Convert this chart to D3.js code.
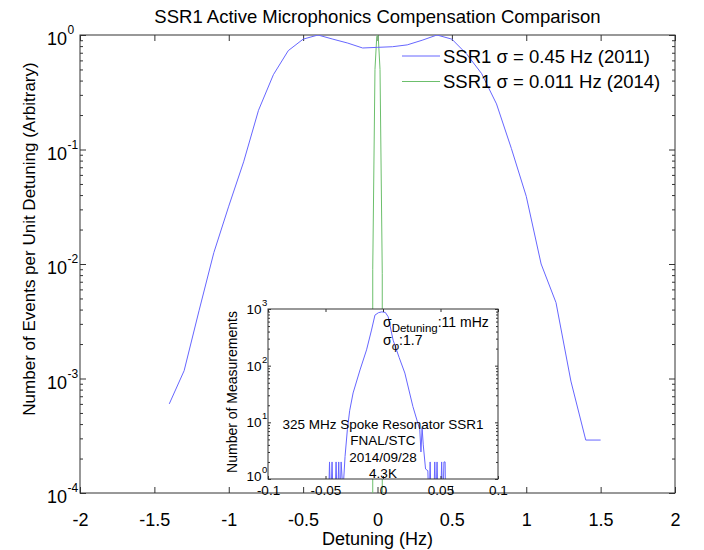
<!DOCTYPE html>
<html><head><meta charset="utf-8">
<script src="https://cdn.jsdelivr.net/npm/d3@7"></script>
<style>
body{margin:0;background:#fff;}
svg{display:block;font-family:"Liberation Sans",Arial,sans-serif;}
</style></head>
<body>
<svg id="c" width="704" height="550"></svg>
<script>
// ---- data ----
const xTickValues = [-2,-1.5,-1,-0.5,0,0.5,1,1.5,2];
const yTickExponents = [-4,-3,-2,-1,0];
const blueX = [-1.4,-1.3,-1.2,-1.1,-1.0,-0.9,-0.8,-0.7,-0.6,-0.5,-0.4,-0.3,-0.2,-0.1,0,0.1,0.2,0.3,0.4,0.5,0.6,0.7,0.8,0.9,1.0,1.1,1.2,1.3,1.4,1.5];
const blueV = [6.0e-4,1.17e-3,3.9e-3,0.0126,0.032,0.078,0.22,0.45,0.73,0.92,1.0,0.92,0.85,0.77,0.78,0.79,0.82,0.90,1.0,0.92,0.68,0.46,0.25,0.102,0.039,0.010,4.6e-3,9.5e-4,2.9e-4,2.9e-4];
const greenX = [-0.032,-0.032,-0.017,-0.005,0,0.005,0.017,0.032,0.032];
const greenV = [1e-4,0.009,0.5,0.97,1.0,0.97,0.5,0.0083,1e-4];
const legendLabels = ["SSR1 \u03c3 = 0.45 Hz (2011)","SSR1 \u03c3 = 0.011 Hz (2014)"];
const insetXTicks = [-0.1,-0.05,0,0.05,0.1];
const insetYExponents = [0,1,2,3];
const insetX = [-0.0475,-0.0465,-0.0455,-0.0443,-0.0432,-0.0419,-0.0408,-0.0397,-0.0385,-0.0375,-0.0364,-0.0355,-0.0348,-0.033,-0.031,-0.029,-0.026,-0.020,-0.0143,-0.010,-0.007,-0.004,-0.001,0.002,0.0045,0.0088,0.014,0.019,0.026,0.032,0.033,0.034,0.035,0.037,0.039,0.040,0.041,0.042,0.044,0.045,0.046,0.047,0.048,0.050,0.051,0.052,0.053,0.054,0.0545];
const insetCounts = [0.3,2,0.3,2,0.3,0.3,2,0.3,2,0.3,2,1,0.6,2.5,7.4,16,33,84,190,425,780,860,890,870,730,282,140,74,19,7.4,3,8,4,1.5,1.4,0.3,2,0.3,0.3,2,0.3,2,0.3,0.3,2,0.3,2,2,0.3];
const insetNotes = ["325 MHz Spoke Resonator SSR1","FNAL/STC","2014/09/28","4.3K"];

const svg = d3.select("#c");
const blue = "#6666ff", green = "#6cbf6c", axisCol = "#333";

// ---- main axes ----
const L=80,R=675,T=35,B=493;
const x = d3.scaleLinear().domain([-2,2]).range([L,R]);
const y = d3.scaleLog().domain([1e-4,1]).range([B,T]);

svg.append("text").attr("x",(L+R)/2).attr("y",23).attr("text-anchor","middle")
  .attr("font-size",18.5).text("SSR1 Active Microphonics Compensation Comparison");

const minors = [];
for (let e=-4;e<0;e++) for (let m=2;m<=9;m++) minors.push(m*Math.pow(10,e));
const majors = yTickExponents.map(e=>Math.pow(10,e));

function styleAxis(g){ g.select(".domain").remove(); g.selectAll("line").attr("stroke",axisCol); }

svg.append("g").attr("transform",`translate(0,${B})`)
  .call(d3.axisBottom(x).tickValues(xTickValues).tickSize(-6).tickPadding(20).tickFormat(d=>String(d)))
  .call(styleAxis).call(g=>g.selectAll("text").attr("font-size",18).attr("fill","#000").attr("font-family","Liberation Sans, Arial"));
svg.append("g").attr("transform",`translate(0,${T})`)
  .call(d3.axisTop(x).tickValues(xTickValues).tickSize(-6).tickFormat(""))
  .call(styleAxis);
svg.append("g").attr("transform",`translate(${L},0)`)
  .call(d3.axisLeft(y).tickValues(majors).tickSize(-6).tickFormat("")).call(styleAxis);
svg.append("g").attr("transform",`translate(${L},0)`)
  .call(d3.axisLeft(y).tickValues(minors).tickSize(-3).tickFormat("")).call(styleAxis);
svg.append("g").attr("transform",`translate(${R},0)`)
  .call(d3.axisRight(y).tickValues(majors).tickSize(-6).tickFormat("")).call(styleAxis);
svg.append("g").attr("transform",`translate(${R},0)`)
  .call(d3.axisRight(y).tickValues(minors).tickSize(-3).tickFormat("")).call(styleAxis);

// y tick labels with superscripts
yTickExponents.forEach(e=>{
  svg.append("text").attr("x",67).attr("y",y(Math.pow(10,e))+10)
    .attr("text-anchor","end").attr("font-size",18).text("10");
  svg.append("text").attr("x",67.5).attr("y",y(Math.pow(10,e))-1)
    .attr("font-size",12).text(String(e));
});

svg.append("rect").attr("x",L).attr("y",T).attr("width",R-L).attr("height",B-T)
  .attr("fill","none").attr("stroke",axisCol).attr("stroke-width",1);

svg.append("text").attr("transform","translate(29,239) rotate(-90)").attr("text-anchor","middle")
  .attr("dy","0.35em").attr("font-size",17).text("Number of Events per Unit Detuning (Arbitrary)");
svg.append("text").attr("x",(L+R)/2).attr("y",545).attr("text-anchor","middle")
  .attr("font-size",18).text("Detuning (Hz)");

svg.append("clipPath").attr("id","mainclip").append("rect")
  .attr("x",L).attr("y",T).attr("width",R-L).attr("height",B-T);

const line = d3.line().x(d=>x(d[0])).y(d=>y(d[1]));
svg.append("path").attr("clip-path","url(#mainclip)")
  .datum(greenX.map((v,i)=>[v,greenV[i]])).attr("d",line)
  .attr("fill","none").attr("stroke",green).attr("stroke-width",1);
svg.append("path").attr("clip-path","url(#mainclip)")
  .datum(blueX.map((v,i)=>[v,blueV[i]])).attr("d",line)
  .attr("fill","none").attr("stroke",blue).attr("stroke-width",1);

// legend
const legY=[56,81.5], legCol=[blue,green];
legendLabels.forEach((lab,i)=>{
  svg.append("line").attr("x1",402).attr("x2",440).attr("y1",legY[i]).attr("y2",legY[i])
    .attr("stroke",legCol[i]).attr("stroke-width",1);
  svg.append("text").attr("x",443).attr("y",legY[i]+6.5).attr("font-size",18.5).text(lab);
});

// ---- inset ----
const iL=268,iR=498,iT=309,iB=479;
const ix = d3.scaleLinear().domain([-0.1,0.1]).range([iL,iR]);
const iy = d3.scaleLog().domain([1,1000]).range([iB,iT]);
svg.append("rect").attr("x",iL).attr("y",iT).attr("width",iR-iL).attr("height",iB-iT).attr("fill","#fff");
svg.append("clipPath").attr("id","insetclip").append("rect")
  .attr("x",iL).attr("y",iT).attr("width",iR-iL).attr("height",iB-iT);

const iLine = d3.line().x(d=>ix(d[0])).y(d=>iy(d[1]));
svg.append("path").attr("clip-path","url(#insetclip)")
  .datum(insetX.map((v,i)=>[v,insetCounts[i]])).attr("d",iLine)
  .attr("fill","none").attr("stroke",blue).attr("stroke-width",1);

const iMinors=[]; for(let e=0;e<3;e++) for(let m=2;m<=9;m++) iMinors.push(m*Math.pow(10,e));
const iMajors = insetYExponents.map(e=>Math.pow(10,e));
svg.append("g").attr("transform",`translate(0,${iB})`)
  .call(d3.axisBottom(ix).tickValues(insetXTicks).tickSize(-3).tickPadding(6).tickFormat(d=>String(d)))
  .call(styleAxis).call(g=>g.selectAll("text").attr("font-size",13.5).attr("fill","#000").attr("font-family","Liberation Sans, Arial"));
svg.append("g").attr("transform",`translate(0,${iT})`)
  .call(d3.axisTop(ix).tickValues(insetXTicks).tickSize(-3).tickFormat("")).call(styleAxis);
[[iL,d3.axisLeft],[iR,d3.axisRight]].forEach(([px,ax])=>{
  svg.append("g").attr("transform",`translate(${px},0)`)
    .call(ax(iy).tickValues(iMajors).tickSize(-3).tickFormat("")).call(styleAxis);
  svg.append("g").attr("transform",`translate(${px},0)`)
    .call(ax(iy).tickValues(iMinors).tickSize(-2).tickFormat("")).call(styleAxis);
});
svg.append("rect").attr("x",iL).attr("y",iT).attr("width",iR-iL).attr("height",iB-iT)
  .attr("fill","none").attr("stroke",axisCol).attr("stroke-width",1);

insetYExponents.forEach(e=>{
  svg.append("text").attr("x",261.5).attr("y",iy(Math.pow(10,e))+(e===0?2:5))
    .attr("text-anchor","end").attr("font-size",13.5).text("10");
  svg.append("text").attr("x",262).attr("y",iy(Math.pow(10,e))-(e===0?6:3))
    .attr("font-size",9.5).text(String(e));
});
svg.append("text").attr("transform","translate(232,392) rotate(-90)").attr("text-anchor","middle")
  .attr("dy","0.35em").attr("font-size",14).text("Number of Measurements");

// annotations
const a1 = svg.append("text").attr("x",383).attr("y",326.5).attr("font-size",14);
a1.append("tspan").text("\u03c3");
a1.append("tspan").attr("font-size",11.5).attr("dy",5).text("Detuning");
a1.append("tspan").attr("dy",-5).text(":11 mHz");
const a2 = svg.append("text").attr("x",383).attr("y",345).attr("font-size",14);
a2.append("tspan").text("\u03c3");
a2.append("tspan").attr("font-size",11.5).attr("dy",5).text("\u03c6");
a2.append("tspan").attr("dy",-5).text(":1.7");

const noteY=[428.5,445,461.5,477.5];
insetNotes.forEach((t,i)=>{
  svg.append("text").attr("x",ix(0)).attr("y",noteY[i]).attr("text-anchor","middle")
    .attr("font-size",13.5).text(t);
});
</script>
</body></html>
